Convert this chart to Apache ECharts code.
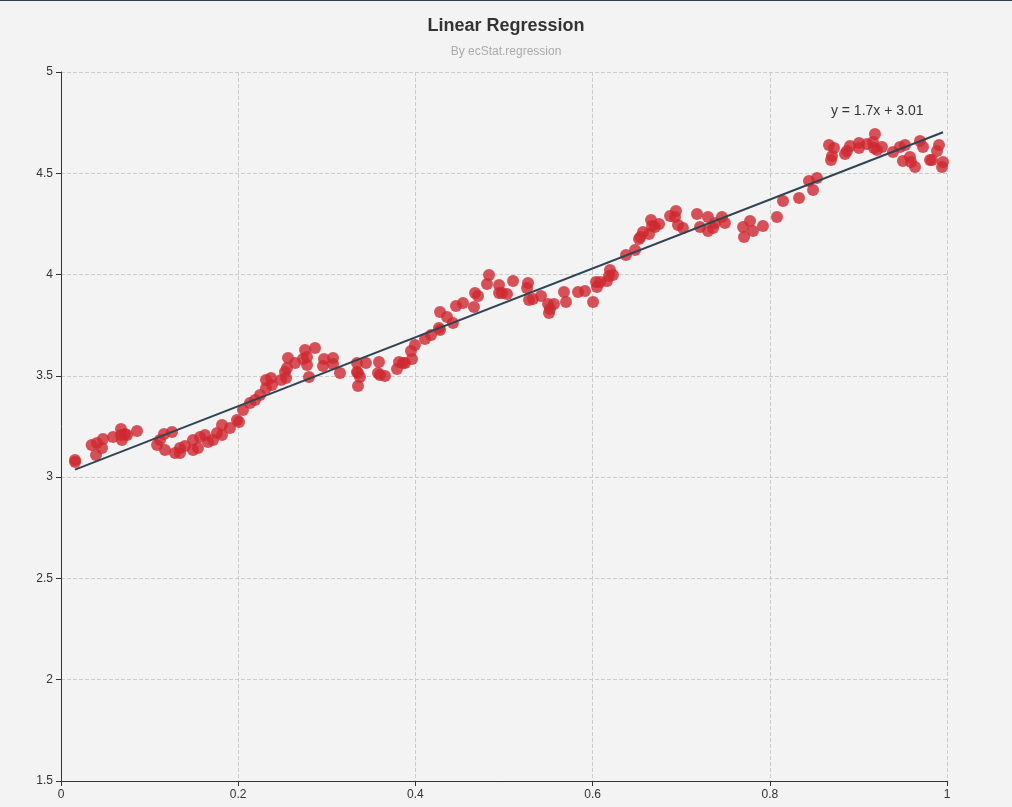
<!DOCTYPE html>
<html>
<head>
<meta charset="utf-8">
<title>Linear Regression</title>
<script src="https://cdn.jsdelivr.net/npm/echarts@6/dist/echarts.min.js"></script>
<style>
    html, body { margin: 0; padding: 0; background: #f3f3f3; }
    body { border-top: 1px solid #2c3e50; }
    #main { width: 1012px; height: 806px; }
</style>
</head>
<body>
<div id="main"></div>
<script>
var chart = echarts.init(document.getElementById('main'));

// x values of the scatter points
var xValues = [
    0.0158, 0.0160, 0.0346, 0.0395, 0.0406, 0.0463, 0.0474, 0.0587, 0.0677, 0.0688,
    0.0677, 0.0722, 0.0745, 0.0858, 0.1084, 0.1117, 0.1163, 0.1174, 0.1253, 0.1287,
    0.1343, 0.1343, 0.1400, 0.1490, 0.1490, 0.1546, 0.1569, 0.1625, 0.1659, 0.1716,
    0.1761, 0.1817, 0.1817, 0.1907, 0.1986, 0.2009, 0.2054, 0.2133, 0.2190, 0.2246,
    0.2314, 0.2314, 0.2370, 0.2381, 0.2483, 0.2528, 0.2551, 0.2540, 0.2562, 0.2641,
    0.2731, 0.2754, 0.2777, 0.2777, 0.2867, 0.2799, 0.2968, 0.2957, 0.3070, 0.3070,
    0.3149, 0.3341, 0.3341, 0.3352, 0.3442, 0.3352, 0.3375, 0.3589, 0.3578, 0.3600,
    0.3657, 0.3792, 0.3815, 0.3860, 0.3883, 0.3962, 0.3950, 0.3995, 0.4108, 0.4176,
    0.4266, 0.4278, 0.4278, 0.4357, 0.4424, 0.4458, 0.4537, 0.4661, 0.4673, 0.4707,
    0.4808, 0.4831, 0.4944, 0.4944, 0.4977, 0.5034, 0.5102, 0.5271, 0.5260, 0.5282,
    0.5327, 0.5418, 0.5497, 0.5519, 0.5508, 0.5564, 0.5677, 0.5700, 0.5835, 0.5914,
    0.6005, 0.6050, 0.6038, 0.6084, 0.6163, 0.6196, 0.6185, 0.6230, 0.6377, 0.6479,
    0.6524, 0.6540, 0.6569, 0.6637, 0.6659, 0.6671, 0.6704, 0.6750, 0.6874, 0.6930,
    0.6941, 0.6964, 0.7020, 0.7178, 0.7212, 0.7302, 0.7302, 0.7359, 0.7381, 0.7460,
    0.7494, 0.7698, 0.7709, 0.7777, 0.7810, 0.7923, 0.8081, 0.8149, 0.8330, 0.8442,
    0.8488, 0.8533, 0.8668, 0.8725, 0.8702, 0.8691, 0.8849, 0.8871, 0.8905, 0.9007,
    0.9007, 0.9097, 0.9165, 0.9187, 0.9176, 0.9210, 0.9266, 0.9390, 0.9469, 0.9526,
    0.9503, 0.9582, 0.9594, 0.9639, 0.9695, 0.9729, 0.9808, 0.9831, 0.9887, 0.9910,
    0.9955, 0.9944
];
// matching y values
var yValues = [
    3.085, 3.075, 3.159, 3.109, 3.169, 3.144, 3.188, 3.198, 3.238, 3.183,
    3.208, 3.213, 3.208, 3.228, 3.159, 3.183, 3.213, 3.134, 3.223, 3.119,
    3.119, 3.144, 3.154, 3.134, 3.183, 3.144, 3.198, 3.208, 3.173, 3.183,
    3.218, 3.257, 3.208, 3.243, 3.282, 3.272, 3.331, 3.366, 3.381, 3.406,
    3.440, 3.480, 3.489, 3.455, 3.480, 3.519, 3.539, 3.489, 3.588, 3.563,
    3.583, 3.628, 3.593, 3.554, 3.637, 3.494, 3.583, 3.549, 3.588, 3.558,
    3.514, 3.563, 3.519, 3.450, 3.563, 3.514, 3.494, 3.568, 3.514, 3.504,
    3.499, 3.534, 3.568, 3.563, 3.563, 3.583, 3.623, 3.652, 3.682, 3.702,
    3.736, 3.726, 3.815, 3.791, 3.761, 3.845, 3.860, 3.840, 3.909, 3.894,
    3.953, 3.998, 3.949, 3.909, 3.909, 3.904, 3.968, 3.958, 3.934, 3.874,
    3.879, 3.894, 3.855, 3.830, 3.810, 3.855, 3.914, 3.865, 3.914, 3.919,
    3.865, 3.939, 3.963, 3.963, 3.968, 4.023, 3.993, 3.998, 4.097, 4.121,
    4.176, 4.186, 4.210, 4.200, 4.269, 4.240, 4.235, 4.250, 4.289, 4.284,
    4.314, 4.245, 4.230, 4.299, 4.235, 4.284, 4.215, 4.230, 4.255, 4.284,
    4.255, 4.235, 4.185, 4.264, 4.215, 4.240, 4.284, 4.363, 4.378, 4.462,
    4.417, 4.477, 4.640, 4.625, 4.585, 4.566, 4.595, 4.610, 4.635, 4.650,
    4.625, 4.645, 4.654, 4.694, 4.625, 4.615, 4.630, 4.605, 4.630, 4.640,
    4.561, 4.580, 4.556, 4.531, 4.659, 4.630, 4.566, 4.566, 4.610, 4.640,
    4.556, 4.531
];

// regression result shown on the chart
var slope = 1.7;
var intercept = 3.01;
var expression = 'y = ' + slope + 'x + ' + intercept;

var data = xValues.map(function (x, i) {
    return [x, yValues[i]];
});

// fitted line: from smallest to largest x
var xMin = Math.min.apply(null, xValues);
var xMax = Math.max.apply(null, xValues);
var linePoints = [
    [xMin, slope * xMin + intercept],
    [xMax, slope * xMax + intercept]
];

var option = {
    backgroundColor: '#f3f3f3',
    animation: false,
    title: {
        text: 'Linear Regression',
        subtext: 'By ecStat.regression',
        left: 'center',
        top: 11,
        itemGap: 11,
        textStyle: {
            fontSize: 18,
            fontWeight: 'bold',
            color: '#333'
        },
        subtextStyle: {
            fontSize: 12,
            color: '#aaa'
        }
    },
    grid: {
        left: 61,
        right: 65,
        top: 71,
        bottom: 26
    },
    xAxis: {
        type: 'value',
        min: 0,
        max: 1,
        interval: 0.2,
        axisLine: { lineStyle: { color: '#333' } },
        axisTick: { show: true, lineStyle: { color: '#333' } },
        axisLabel: { color: '#333', fontSize: 12 },
        splitLine: { lineStyle: { type: 'dashed', color: '#ccc' } }
    },
    yAxis: {
        type: 'value',
        min: 1.5,
        max: 5,
        interval: 0.5,
        axisLine: { show: true, lineStyle: { color: '#333' } },
        axisTick: { show: true, lineStyle: { color: '#333' } },
        axisLabel: { color: '#333', fontSize: 12 },
        splitLine: { lineStyle: { type: 'dashed', color: '#ccc' } }
    },
    series: [
        {
            name: 'scatter',
            type: 'scatter',
            symbolSize: 12,
            itemStyle: {
                color: 'rgb(206, 40, 48)',
                opacity: 0.8
            },
            data: data
        },
        {
            name: 'line',
            type: 'line',
            showSymbol: false,
            lineStyle: {
                color: '#2f4554',
                width: 2
            },
            data: linePoints,
            markPoint: {
                symbol: 'circle',
                symbolSize: 1,
                itemStyle: { color: 'transparent' },
                label: {
                    show: true,
                    position: 'left',
                    distance: 0,
                    offset: [-19, -21],
                    formatter: expression,
                    color: '#333',
                    fontSize: 14
                },
                data: [{ coord: linePoints[1] }]
            }
        }
    ]
};

chart.setOption(option);
</script>
</body>
</html>
